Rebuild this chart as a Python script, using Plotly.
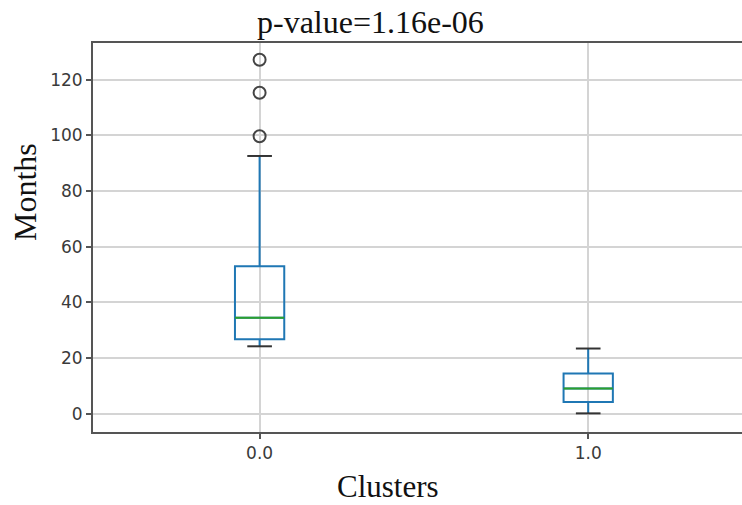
import plotly.graph_objects as go

# ---- data ----
cluster_pos = [0, 1]
cluster_labels = ["0.0", "1.0"]
q1 = [26.7, 4.2]
median = [34.5, 9.0]
q3 = [53.0, 14.4]
lower_whisker = [24.2, 0.1]
upper_whisker = [92.6, 23.4]
outlier_x = [0, 0, 0]
outlier_y = [127.2, 115.3, 99.7]
y_ticks = [0, 20, 40, 60, 80, 100, 120]

BOX_W = 0.15
CAP_W = BOX_W / 2
BLUE = "#1f77b4"
GREEN = "#2ca02c"

fig = go.Figure()

fig.add_trace(go.Box(
    x=cluster_pos, q1=q1, median=median, q3=q3,
    lowerfence=lower_whisker, upperfence=upper_whisker,
    width=BOX_W, whiskerwidth=0, boxpoints=False,
    line=dict(color=BLUE, width=2), fillcolor="rgba(0,0,0,0)",
    showlegend=False, hoverinfo="skip",
))

# medians (green)
mx, my = [], []
for p, m in zip(cluster_pos, median):
    mx += [p - BOX_W / 2, p + BOX_W / 2, None]
    my += [m, m, None]
fig.add_trace(go.Scatter(x=mx, y=my, mode="lines",
                         line=dict(color=GREEN, width=2), showlegend=False))

# caps (black)
cx, cy = [], []
for p, lo, hi in zip(cluster_pos, lower_whisker, upper_whisker):
    cx += [p - CAP_W / 2, p + CAP_W / 2, None, p - CAP_W / 2, p + CAP_W / 2, None]
    cy += [lo, lo, None, hi, hi, None]
fig.add_trace(go.Scatter(x=cx, y=cy, mode="lines",
                         line=dict(color="#333333", width=2), showlegend=False))

# outliers
fig.add_trace(go.Scatter(x=outlier_x, y=outlier_y, mode="markers",
                         marker=dict(symbol="circle-open", size=12,
                                     line=dict(color="#444444", width=2),
                                     color="#444444"),
                         showlegend=False))

tickfont = dict(family="DejaVu Sans", size=17, color="#3a3a3a")
serif = dict(family="Liberation Serif", size=32, color="#111111")
serif_small = dict(family="Liberation Serif", size=31, color="#111111")

fig.update_layout(
    width=742, height=505,
    margin=dict(l=93, r=0, t=43, b=73),
    paper_bgcolor="white", plot_bgcolor="white",
    xaxis=dict(range=[-0.507, 1.468], tickvals=cluster_pos, ticktext=cluster_labels,
               showgrid=True, gridcolor="#d4d4d4", gridwidth=1.5,
               showline=True, linecolor="#555555", linewidth=2, mirror=True,
               ticks="outside", ticklen=5, tickcolor="#555555", tickwidth=1.5,
               tickfont=tickfont, zeroline=False),
    yaxis=dict(range=[-6.6, 133.2], tickvals=y_ticks,
               showgrid=True, gridcolor="#d4d4d4", gridwidth=1.5,
               showline=True, linecolor="#555555", linewidth=2, mirror=False,
               ticks="outside", ticklen=5, tickcolor="#555555", tickwidth=1.5,
               tickfont=tickfont, zeroline=False),
    annotations=[
        dict(text="p-value=1.16e-06", xref="paper", yref="paper",
             x=(370 - 93) / 649, y=1 + (43 - 22) / 389, xanchor="center", yanchor="middle",
             showarrow=False, font=serif),
        dict(text="Months", xref="paper", yref="paper",
             x=(25 - 93) / 649, y=(432 - 192) / 389, xanchor="center", yanchor="middle",
             textangle=-90, showarrow=False, font=serif),
        dict(text="Clusters", xref="paper", yref="paper",
             x=(388 - 93) / 649, y=(432 - 486) / 389, xanchor="center", yanchor="middle",
             showarrow=False, font=serif_small),
    ],
)

fig.write_html("out.html")
